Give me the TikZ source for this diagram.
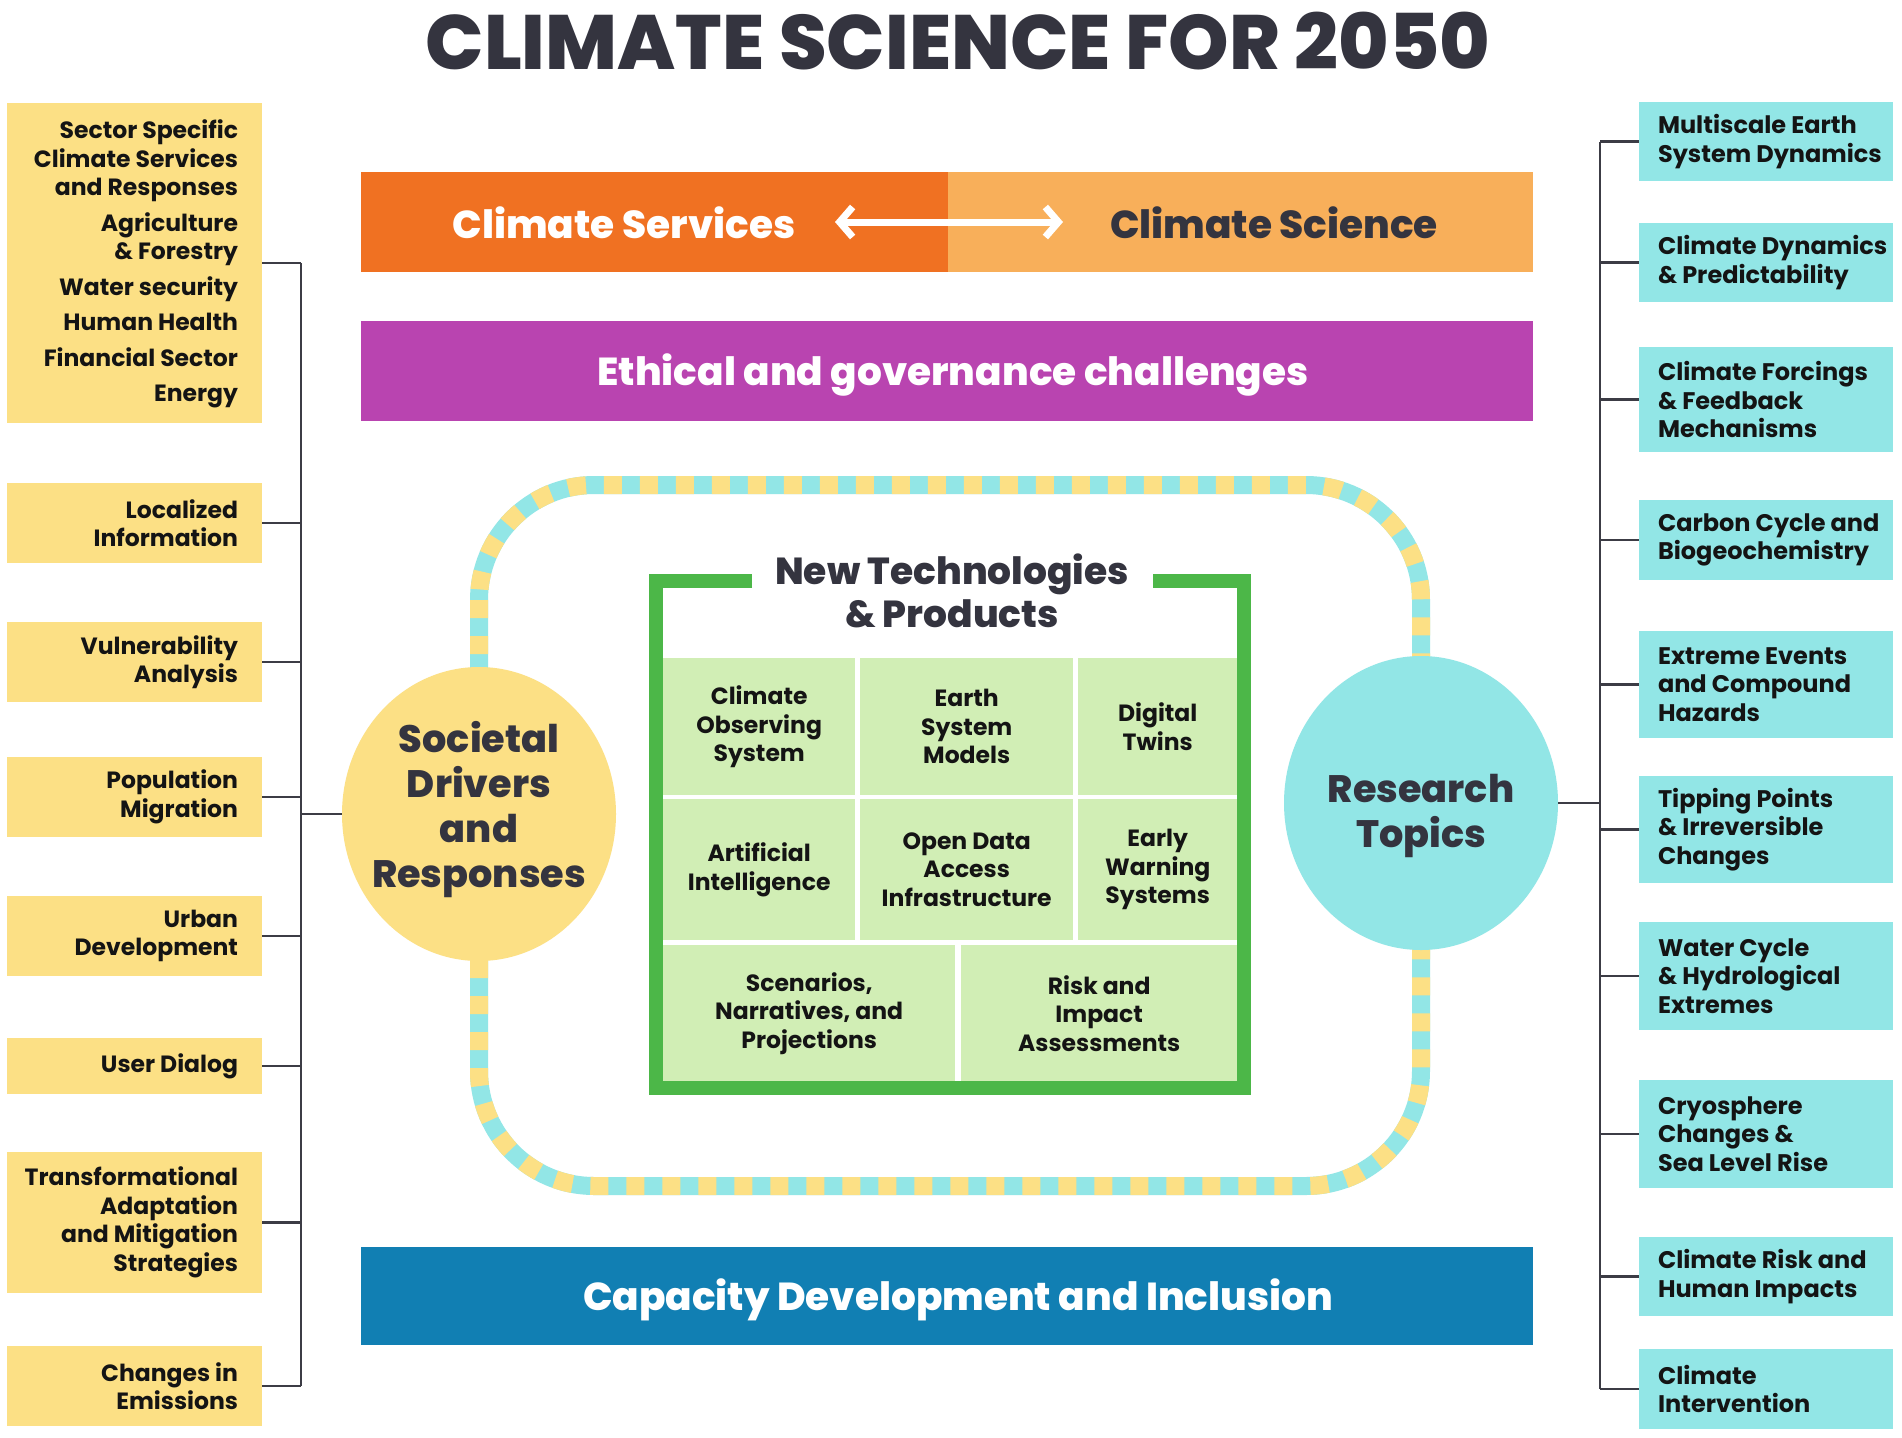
\documentclass[tikz,border=0pt]{standalone}
\usepackage{fontspec}
\setmainfont{Poppins}
\newfontfamily\pxb{Poppins ExtraBold}
\usetikzlibrary{shapes.geometric,arrows.meta}
\definecolor{ordark}{HTML}{F07122}
\definecolor{orlight}{HTML}{F8AF5A}
\definecolor{purp}{HTML}{B944B0}
\definecolor{blu}{HTML}{117FB3}
\definecolor{ylw}{HTML}{FCE085}
\definecolor{cyn}{HTML}{92E6E6}
\definecolor{grn}{HTML}{4CB748}
\definecolor{cellg}{HTML}{D1EEB5}
\definecolor{darktxt}{HTML}{34343F}
\definecolor{linegray}{HTML}{3C3C45}
\definecolor{boxtxt}{HTML}{141414}
\tikzset{
  lbox/.style={fill=ylw, draw=none, minimum width=255pt, inner sep=0pt},
  rbox/.style={fill=cyn, draw=none, minimum width=254pt, inner sep=0pt},
  ltxt/.style={anchor=east, align=right, inner sep=0pt, text=boxtxt, font=\bfseries\fontsize{23.5}{28.5}\selectfont},
  rtxt/.style={anchor=west, align=left, inner sep=0pt, text=boxtxt, font=\bfseries\fontsize{24}{28.5}\selectfont},
  bar/.style={draw=none, inner sep=0pt, minimum height=100pt},
  bartxt/.style={text=white, font=\pxb\fontsize{39}{46}\selectfont, inner sep=0pt},
  cell/.style={fill=cellg, draw=none, inner sep=0pt, anchor=north west, align=center, text=boxtxt, font=\bfseries\fontsize{23.5}{28.5}\selectfont},
  conn/.style={draw=linegray, line width=2.5pt},
  bigcirc/.style={ellipse, draw=none, inner sep=0pt, minimum width=274pt, minimum height=294pt},
  circtxt/.style={align=center, inner sep=0pt, text=darktxt, font=\pxb\fontsize{38.2}{45}\selectfont}
}
\begin{document}
\begin{tikzpicture}[x=1pt,y=-1pt]
\useasboundingbox[fill=white] (0,0) rectangle (1902,1437);

% title
\node[text=darktxt, font=\pxb\fontsize{77}{84}\selectfont, inner sep=0pt] (title) at (958,41) {CLIMATE SCIENCE FOR 2050};

% top bar
\node[bar, fill=ordark, minimum width=587pt, anchor=north west] (csbar) at (361,172) {};
\node[bar, fill=orlight, minimum width=585pt, anchor=north west] (scbar) at (948,172) {};
\node[bartxt] (cstxt) at (624,223) {Climate Services};
\node[bartxt, text=darktxt] (sctxt) at (1274,223) {Climate Science};
\coordinate (arL) at (835,222);
\coordinate (arR) at (1063,222);
\draw[white, line width=7pt, {Straight Barb[length=13pt,width=30pt]}-{Straight Barb[length=13pt,width=30pt]}] (arL) -- (arR);

% ethical bar
\node[bar, fill=purp, minimum width=1172pt, anchor=north west] (ethbar) at (361,321) {};
\node[bartxt] (ethtxt) at (953,375) {Ethical and governance challenges};

% capacity bar
\node[bar, fill=blu, minimum width=1172pt, minimum height=98pt, anchor=north west] (capbar) at (361,1247) {};
\node[bartxt] (captxt) at (958,1300) {Capacity Development and Inclusion};

% dashed loop
\draw[cyn, line width=18pt, rounded corners=115pt] (479,485) rectangle (1421,1186);
\draw[ylw, line width=18pt, rounded corners=115pt, dash pattern=on 18pt off 18pt] (479,485) rectangle (1421,1186);

% green box
\draw[grn, line width=14pt] (752,581) -- (656,581) -- (656,1088) -- (1244,1088) -- (1244,581) -- (1153,581);
\node[text=darktxt, align=center, font=\pxb\fontsize{37.6}{43}\selectfont, inner sep=0pt] (nttitle) at (952,591) {New Technologies\\\& Products};

% cells
\node[cell, minimum width=192pt, minimum height=137pt] (c11) at (663,658) {Climate\\Observing\\System};
\node[cell, minimum width=213pt, minimum height=137pt] (c12) at (860,658) {Earth\\System\\Models};
\node[cell, minimum width=159pt, minimum height=137pt] (c13) at (1078,658) {Digital\\Twins};
\node[cell, minimum width=192pt, minimum height=141pt] (c21) at (663,799) {Artificial\\Intelligence};
\node[cell, minimum width=213pt, minimum height=141pt] (c22) at (860,799) {Open Data\\Access\\Infrastructure};
\node[cell, minimum width=159pt, minimum height=141pt] (c23) at (1078,799) {Early\\Warning\\Systems};
\node[cell, minimum width=292pt, minimum height=136pt] (c31) at (663,945) {Scenarios,\\Narratives, and\\Projections};
\node[cell, minimum width=276pt, minimum height=136pt] (c32) at (961,945) {Risk and\\Impact\\Assessments};

% circles
\node[bigcirc, fill=ylw] (soc) at (479,814) {};
\node[circtxt] (soctxt) at (479,810) {Societal\\Drivers\\and\\Responses};
\node[bigcirc, fill=cyn] (res) at (1421,803) {};
\node[circtxt] (restxt) at (1421,816) {Research\\Topics};

% left boxes
\node[lbox, minimum height=320pt] (L1) at (134.5,263) {};
\node[lbox, minimum height=80pt] (L2) at (134.5,523) {};
\node[lbox, minimum height=80pt] (L3) at (134.5,662) {};
\node[lbox, minimum height=80pt] (L4) at (134.5,797) {};
\node[lbox, minimum height=80pt] (L5) at (134.5,936) {};
\node[lbox, minimum height=56pt] (L6) at (134.5,1066) {};
\node[lbox, minimum height=141pt] (L7) at (134.5,1222.5) {};
\node[lbox, minimum height=80pt] (L8) at (134.5,1386) {};

\node[ltxt] (L1t) at ([xshift=-24pt,yshift=-1pt]L1.east) {Sector Specific\\Climate Services\\and Responses\\[7pt]Agriculture\\\& Forestry\\[7pt]Water security\\[7pt]Human Health\\[7pt]Financial Sector\\[7pt]Energy};
\node[ltxt] (L2t) at ([xshift=-24pt]L2.east) {Localized\\Information};
\node[ltxt] (L3t) at ([xshift=-24pt]L3.east) {Vulnerability\\Analysis};
\node[ltxt] (L4t) at ([xshift=-24pt]L4.east) {Population\\Migration};
\node[ltxt] (L5t) at ([xshift=-24pt]L5.east) {Urban\\Development};
\node[ltxt] (L6t) at ([xshift=-24pt]L6.east) {User Dialog};
\node[ltxt] (L7t) at ([xshift=-24pt]L7.east) {Transformational\\Adaptation\\and Mitigation\\Strategies};
\node[ltxt] (L8t) at ([xshift=-24pt]L8.east) {Changes in\\Emissions};

% right boxes
\node[rbox, minimum height=79pt] (R1) at (1766,141.5) {};
\node[rbox, minimum height=79pt] (R2) at (1766,262.5) {};
\node[rbox, minimum height=105pt] (R3) at (1766,399.5) {};
\node[rbox, minimum height=80pt] (R4) at (1766,540) {};
\node[rbox, minimum height=107pt] (R5) at (1766,684.5) {};
\node[rbox, minimum height=107pt] (R6) at (1766,829.5) {};
\node[rbox, minimum height=108pt] (R7) at (1766,976) {};
\node[rbox, minimum height=108pt] (R8) at (1766,1134) {};
\node[rbox, minimum height=79pt] (R9) at (1766,1276.5) {};
\node[rbox, minimum height=80pt] (R10) at (1766,1389) {};

\node[rtxt] (R1t) at ([xshift=19pt]R1.west) {Multiscale Earth\\System Dynamics};
\node[rtxt] (R2t) at ([xshift=19pt]R2.west) {Climate Dynamics\\\& Predictability};
\node[rtxt] (R3t) at ([xshift=19pt]R3.west) {Climate Forcings\\\& Feedback\\Mechanisms};
\node[rtxt] (R4t) at ([xshift=19pt]R4.west) {Carbon Cycle and\\Biogeochemistry};
\node[rtxt] (R5t) at ([xshift=19pt]R5.west) {Extreme Events\\and Compound\\Hazards};
\node[rtxt] (R6t) at ([xshift=19pt]R6.west) {Tipping Points\\\& Irreversible\\Changes};
\node[rtxt] (R7t) at ([xshift=19pt]R7.west) {Water Cycle\\\& Hydrological\\Extremes};
\node[rtxt] (R8t) at ([xshift=19pt]R8.west) {Cryosphere\\Changes \&\\Sea Level Rise};
\node[rtxt] (R9t) at ([xshift=19pt]R9.west) {Climate Risk and\\Human Impacts};
\node[rtxt] (R10t) at ([xshift=19pt]R10.west) {Climate\\Intervention};

% left spine
\coordinate (ls) at (301,0);
\draw[conn] (L1.east -| ls) -- (L8.east -| ls);
\foreach \n in {L1,L2,L3,L4,L5,L6,L7,L8} { \draw[conn] (\n.east) -- (\n.east -| ls); }
\draw[conn] (soc.west) -- (soc.west -| ls);

% right spine
\coordinate (rs) at (1600,0);
\draw[conn] (R1.west -| rs) -- (R10.west -| rs);
\foreach \n in {R1,R2,R3,R4,R5,R6,R7,R8,R9,R10} { \draw[conn] (\n.west) -- (\n.west -| rs); }
\draw[conn] (res.east) -- (res.east -| rs);
\end{tikzpicture}
\end{document}
